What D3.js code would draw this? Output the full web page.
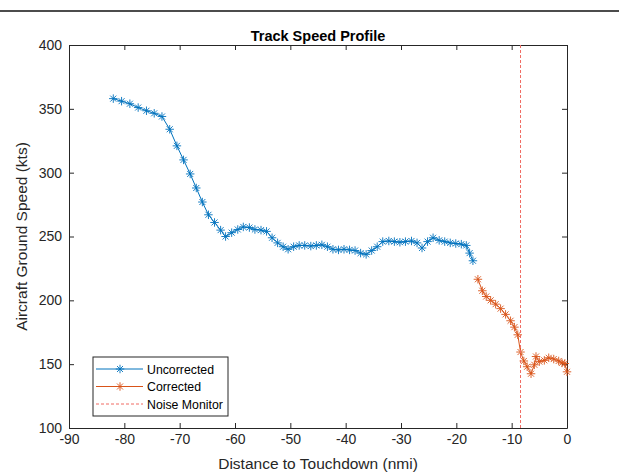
<!DOCTYPE html>
<html>
<head>
<meta charset="utf-8">
<script src="https://cdn.jsdelivr.net/npm/d3@7"></script>
<style>
  body { margin: 0; background: #fff; }
  svg { display: block; }
  text { font-family: "Liberation Sans", Arial, Helvetica, sans-serif; }
</style>
</head>
<body>
<svg id="chart" width="619" height="474"></svg>
<script>
// Ground-speed track samples (distance to touchdown in nmi, speed in kts)
const uncorrectedDist = [-82.0, -80.5, -79.0, -77.5, -76.0, -74.6, -73.2, -71.8, -70.5, -69.3, -68.1,
  -67.0, -65.9, -64.8, -63.7, -62.6, -61.7, -60.6, -59.5, -58.5, -57.4, -56.4, -55.3, -54.3, -53.3,
  -52.3, -51.3, -50.4, -49.4, -48.4, -47.4, -46.3, -45.3, -44.3, -43.3, -42.3, -41.3, -40.3, -39.3,
  -38.3, -37.3, -36.3, -35.3, -34.3, -33.3, -32.2, -31.2, -30.2, -29.2, -28.1, -27.1, -26.2, -25.2,
  -24.2, -23.1, -22.1, -21.1, -20.1, -19.1, -18.2, -17.6, -17.0];
const uncorrectedSpeed = [358, 356, 354, 351, 348.5, 346.5, 344, 334, 321, 310, 299,
  288, 277, 267, 261, 255, 250, 253, 255.5, 257.5, 257, 255.5, 255, 254, 249,
  245, 242, 240, 242, 243, 243, 242.5, 243, 243.5, 242, 240, 239.5, 240, 239.5,
  239, 237, 236, 239, 242, 246, 246.5, 246, 245.5, 246, 246.5, 245, 241, 246,
  249, 247, 246, 245, 244.5, 244, 243, 237, 231];

const correctedDist = [-16.1, -15.3, -14.6, -13.8, -12.9, -12.0, -11.1, -10.2, -9.5, -8.9, -8.4,
  -7.8, -7.2, -6.5, -5.9, -5.6, -5.0, -4.1, -3.3, -2.4, -1.5, -0.9, -0.4, 0.0];
const correctedSpeed = [216.5, 207.5, 203, 200, 197, 193.5, 189, 184, 179, 173, 159.5,
  152.5, 148, 142.5, 149.5, 156, 152, 153, 155, 154, 152.5, 151, 150.5, 144];

const noiseMonitorDist = -8.4;

const xTicks = [-90, -80, -70, -60, -50, -40, -30, -20, -10, 0];
const yTicks = [100, 150, 200, 250, 300, 350, 400];

const titleText = "Track Speed Profile";
const xLabelText = "Distance to Touchdown (nmi)";
const yLabelText = "Aircraft Ground Speed (kts)";
const legendLabels = ["Uncorrected", "Corrected", "Noise Monitor"];

const blue = "#0072BD";
const orange = "#D95319";
const red = "#f06a62";
const axisColor = "#262626";

const W = 619, H = 474;
const margin = { top: 45, right: 52, bottom: 46, left: 69 };
const iw = W - margin.left - margin.right;
const ih = H - margin.top - margin.bottom;

const svg = d3.select("#chart");
svg.append("rect").attr("width", W).attr("height", H).attr("fill", "#fff");

// rule across the top of the figure
svg.append("line")
  .attr("x1", 0).attr("x2", W).attr("y1", 11).attr("y2", 11)
  .attr("stroke", "#111").attr("stroke-width", 1.6);

const g = svg.append("g").attr("transform", `translate(${margin.left},${margin.top})`);

const x = d3.scaleLinear().domain([-90, 0]).range([0, iw]);
const y = d3.scaleLinear().domain([100, 400]).range([ih, 0]);

// plain hyphen-minus for negative tick labels
const tickFmt = d => String(d);

// asterisk marker: plus and cross overlaid
const asterisk = {
  draw(ctx, size) {
    const r = Math.sqrt(size) / 2;
    const d = r * Math.SQRT1_2;
    ctx.moveTo(-r, 0); ctx.lineTo(r, 0);
    ctx.moveTo(0, -r); ctx.lineTo(0, r);
    ctx.moveTo(-d, -d); ctx.lineTo(d, d);
    ctx.moveTo(-d, d); ctx.lineTo(d, -d);
  }
};
const markerPath = d3.symbol().type(asterisk).size(72)();

// axes with inward ticks, mirrored on top and right
function styleAxis(sel) {
  sel.selectAll("path.domain").attr("stroke", axisColor).attr("stroke-width", 1);
  sel.selectAll(".tick line").attr("stroke", axisColor).attr("stroke-width", 1);
  sel.selectAll(".tick text").attr("fill", axisColor).style("font-size", "14px")
    .style("font-family", '"Liberation Sans", Arial, sans-serif');
}

g.append("g").attr("transform", `translate(0,${ih})`)
  .call(d3.axisBottom(x).tickValues(xTicks).tickFormat(tickFmt)
    .tickSizeInner(-5).tickSizeOuter(0).tickPadding(6))
  .call(styleAxis);
g.append("g")
  .call(d3.axisTop(x).tickValues(xTicks).tickSizeInner(-5).tickSizeOuter(0).tickFormat(""))
  .call(styleAxis);
g.append("g")
  .call(d3.axisLeft(y).tickValues(yTicks).tickFormat(tickFmt)
    .tickSizeInner(-5).tickSizeOuter(0).tickPadding(7))
  .call(styleAxis);
g.append("g").attr("transform", `translate(${iw},0)`)
  .call(d3.axisRight(y).tickValues(yTicks).tickSizeInner(-5).tickSizeOuter(0).tickFormat(""))
  .call(styleAxis);

// series
function drawSeries(dist, speed, color) {
  const pts = dist.map((d, i) => [d, speed[i]]);
  const line = d3.line().x(d => x(d[0])).y(d => y(d[1]));
  g.append("path").datum(pts)
    .attr("d", line).attr("fill", "none")
    .attr("stroke", color).attr("stroke-width", 1);
  g.append("g").selectAll("path").data(pts).join("path")
    .attr("transform", d => `translate(${x(d[0])},${y(d[1])})`)
    .attr("d", markerPath)
    .attr("fill", "none").attr("stroke", color).attr("stroke-width", 0.9);
}
drawSeries(uncorrectedDist, uncorrectedSpeed, blue);
drawSeries(correctedDist, correctedSpeed, orange);

// noise monitor position
g.append("line")
  .attr("x1", x(noiseMonitorDist)).attr("x2", x(noiseMonitorDist))
  .attr("y1", 0).attr("y2", ih)
  .attr("stroke", red).attr("stroke-width", 1).attr("stroke-dasharray", "3,2");

// titles
svg.append("text").attr("x", margin.left + iw / 2).attr("y", 41)
  .attr("text-anchor", "middle").attr("font-weight", "bold")
  .style("font-size", "14.5px").attr("fill", "#000").text(titleText);
svg.append("text").attr("x", margin.left + iw / 2).attr("y", 469)
  .attr("text-anchor", "middle").style("font-size", "15.5px").attr("fill", axisColor)
  .text(xLabelText);
svg.append("text")
  .attr("transform", `translate(27,${margin.top + ih / 2}) rotate(-90)`)
  .attr("text-anchor", "middle").style("font-size", "15.5px").attr("fill", axisColor)
  .text(yLabelText);

// legend
const lg = svg.append("g").attr("transform", "translate(93,357)");
lg.append("rect").attr("width", 135).attr("height", 59)
  .attr("fill", "#fff").attr("stroke", axisColor).attr("stroke-width", 1);
const rows = [
  { label: legendLabels[0], color: blue, marker: true, dash: null },
  { label: legendLabels[1], color: orange, marker: true, dash: null },
  { label: legendLabels[2], color: red, marker: false, dash: "3,2" }
];
rows.forEach((r, i) => {
  const yy = 12 + i * 17.5;
  lg.append("line").attr("x1", 3).attr("x2", 50).attr("y1", yy).attr("y2", yy)
    .attr("stroke", r.color).attr("stroke-width", 1)
    .attr("stroke-dasharray", r.dash);
  if (r.marker) {
    lg.append("path").attr("transform", `translate(27,${yy})`).attr("d", markerPath)
      .attr("fill", "none").attr("stroke", r.color).attr("stroke-width", 0.9);
  }
  lg.append("text").attr("x", 54).attr("y", yy + 4.5)
    .style("font-size", "12.3px").attr("fill", "#000").text(r.label);
});
</script>
</body>
</html>
